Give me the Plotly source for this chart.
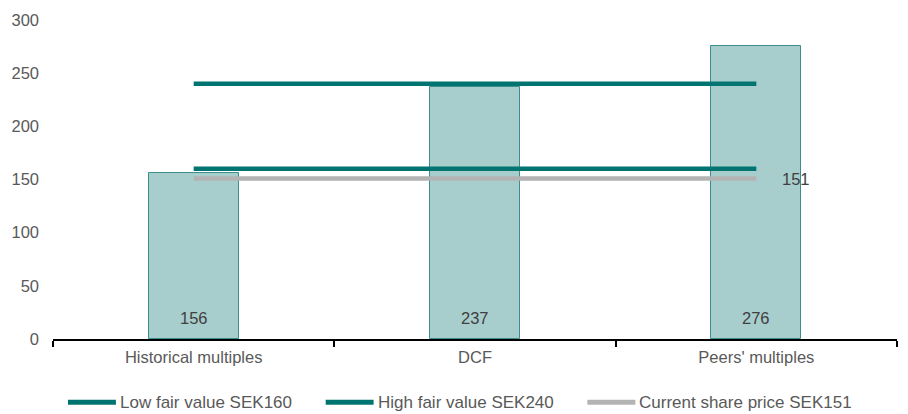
import plotly.graph_objects as go

# Valuation methods and their implied value per share (SEK)
categories = ["Historical multiples", "DCF", "Peers' multiples"]
implied_values = [156, 237, 276]

# Reference levels drawn across the methods
level_names = ["Low fair value SEK160", "High fair value SEK240", "Current share price SEK151"]
level_values = [160, 240, 151]
level_colors = ["#007470", "#007470", "#b3b3b3"]

y_ticks = [0, 50, 100, 150, 200, 250, 300]

W, H = 908, 414
M_L, M_R, M_T, M_B = 52, 11, 16, 75
FONT = "Liberation Sans, Arial, sans-serif"
TXT = "#595959"

fig = go.Figure()

fig.add_trace(go.Bar(
    x=categories,
    y=implied_values,
    width=0.32,
    marker=dict(color="#a7cecd", line=dict(color="#3a8f8c", width=1)),
    showlegend=False,
    hoverinfo="x+y",
))

for name, val, col in zip(level_names, level_values, level_colors):
    fig.add_trace(go.Scatter(
        x=[categories[0], categories[-1]],
        y=[val, val],
        mode="lines",
        name=name,
        line=dict(color=col, width=4.5),
        showlegend=False,
    ))

annotations = []
# value labels at the base of each bar
for cat, v in zip(categories, implied_values):
    annotations.append(dict(
        x=cat, y=0, yshift=21, text=str(v), showarrow=False,
        font=dict(size=16.5, color="#404040", family=FONT),
    ))

# current share price label at the end of its line
annotations.append(dict(
    x=categories[-1], y=level_values[2], xanchor="left", xshift=24, yshift=-1,
    text=str(level_values[2]), showarrow=False,
    font=dict(size=16.5, color="#404040", family=FONT),
))

# legend row under the chart
plot_w = W - M_L - M_R
plot_h = H - M_T - M_B


def px_x(px):
    return (px - M_L) / plot_w


def px_y(py):
    return (H - M_B - py) / plot_h


shapes = []
legend_starts = [65, 323, 585]
legend_y = 403
for x0, name, col in zip(legend_starts, level_names, level_colors):
    shapes.append(dict(
        type="line", xref="paper", yref="paper",
        x0=px_x(x0 + 2), x1=px_x(x0 + 50), y0=px_y(legend_y), y1=px_y(legend_y),
        line=dict(color=col, width=5),
    ))
    annotations.append(dict(
        xref="paper", yref="paper", x=px_x(x0 + 52), y=px_y(legend_y),
        xanchor="left", yanchor="middle", text=name, showarrow=False,
        font=dict(size=17, color=TXT, family=FONT),
    ))

fig.update_layout(
    width=W, height=H,
    margin=dict(l=M_L, r=M_R, t=M_T, b=M_B, pad=0),
    paper_bgcolor="white", plot_bgcolor="white",
    font=dict(family=FONT, size=16.5, color=TXT),
    bargap=0,
    annotations=annotations,
    shapes=shapes,
    xaxis=dict(
        type="category",
        range=[-0.5, 2.5],
        showline=True, linecolor="black", linewidth=2,
        ticks="outside", tickson="boundaries", ticklen=6, tickwidth=2, tickcolor="black",
        showgrid=False, zeroline=False, ticklabelstandoff=2,
        tickfont=dict(size=16.5, color=TXT, family=FONT),
    ),
    yaxis=dict(
        range=[0, 300],
        tickvals=y_ticks,
        showline=False, showgrid=False, zeroline=False,
        ticks="", ticklabelstandoff=13,
        tickfont=dict(size=16.5, color=TXT, family=FONT),
    ),
)

fig.write_html("out.html")
